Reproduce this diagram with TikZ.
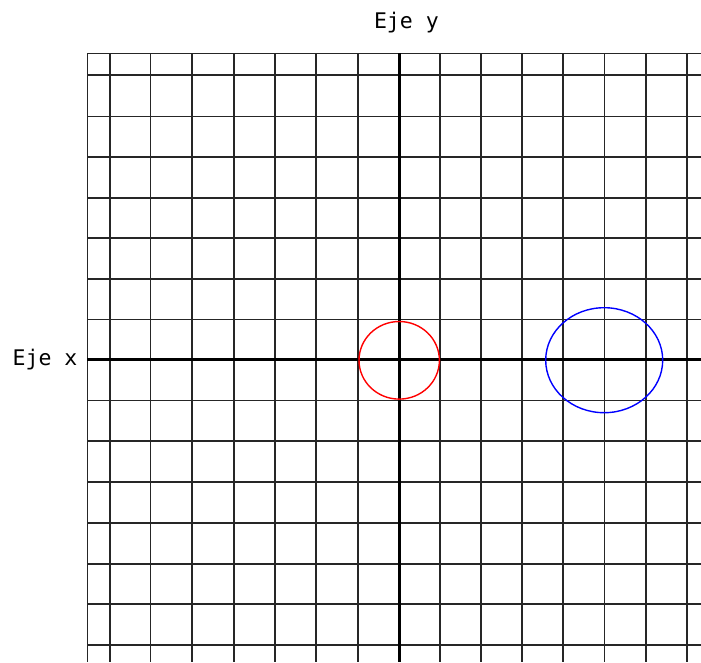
\documentclass[tikz,border=0pt]{standalone}
\usepackage{fontspec}
\newfontfamily\labelfont{DejaVu Sans Mono}
\begin{document}
\begin{tikzpicture}[x=1pt,y=-1pt,
  gridline/.style={line width=1.4pt,black!85},
  axisline/.style={line width=3pt,black},
  axislabel/.style={font=\labelfont\fontsize{21.5}{24}\selectfont,inner sep=0pt,anchor=base}]
\useasboundingbox (0,0) rectangle (701,662);
\fill[white] (0,0) rectangle (701,662);
% vertical grid lines
\foreach \x in {87.3,110,150.5,192,234,275,316,358,440,481,522,563,604.3,646,687}
  \draw[gridline] (\x,53.3) -- (\x,662);
% horizontal grid lines
\foreach \y in {53.3,75,116.3,157,198,238,279,319.5,400.7,441,482,523,564,604,645}
  \draw[gridline] (87.3,\y) -- (701,\y);
% axes
\draw[axisline] (399.3,53.3) -- (399.3,662);
\draw[axisline] (87.3,359.3) -- (701,359.3);
% curves
\draw[red,line width=1.4pt] (399.2,360.3) ellipse [x radius=40.2, y radius=38.8];
\draw[blue,line width=1.4pt] (604.2,360.2) ellipse [x radius=58.5, y radius=52.5];
% labels
\node[axislabel] (ylabel) at (406.4,28.3) {Eje y};
\node[axislabel] (xlabel) at (45,365) {Eje x};
\end{tikzpicture}
\end{document}
